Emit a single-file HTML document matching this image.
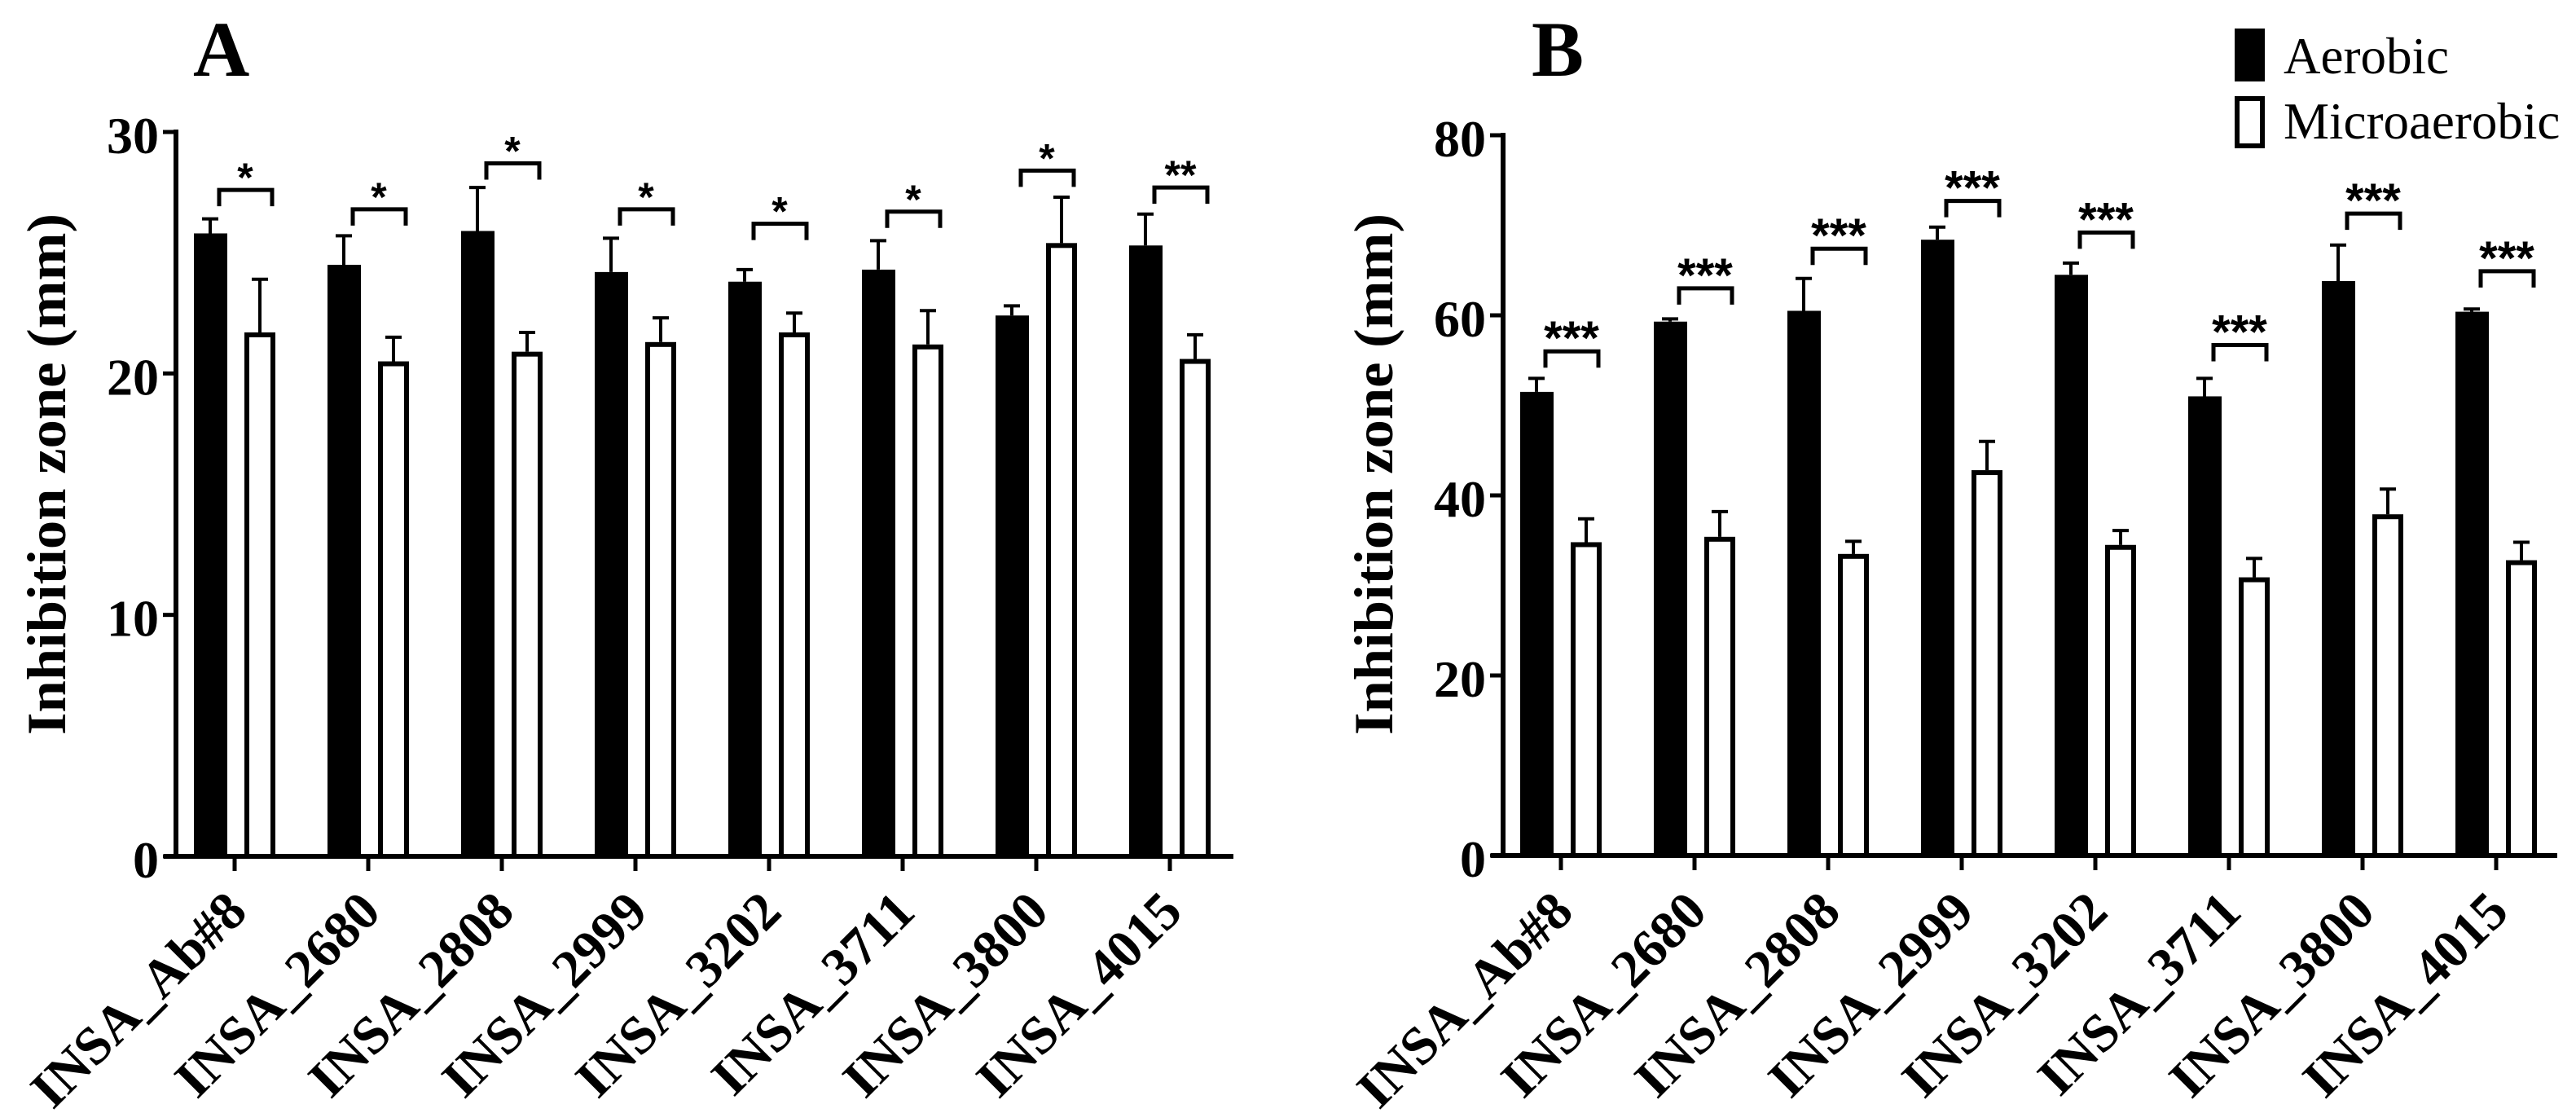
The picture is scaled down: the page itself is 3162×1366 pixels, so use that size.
<!DOCTYPE html>
<html><head><meta charset="utf-8"><style>
html,body{margin:0;padding:0;background:#fff;}
svg{display:block;}
text{font-family:"Liberation Serif",serif;fill:#000;}
</style></head><body>
<svg id="chart" width="3162" height="1366" viewBox="0 0 3162 1366" xmlns="http://www.w3.org/2000/svg">
<rect width="3162" height="1366" fill="#fff"/>
<text x="237" y="93" font-size="96" font-weight="bold">A</text>
<text x="1880" y="93" font-size="96" font-weight="bold">B</text>
<g>
<rect x="2743" y="35" width="37" height="65" fill="#000"/>
<text x="2803" y="90" font-size="63">Aerobic</text>
<rect x="2746" y="121" width="31" height="58" fill="#fff" stroke="#000" stroke-width="6"/>
<text x="2803" y="170" font-size="63">Microaerobic</text>
</g>
</svg>
<script>
const categories = ["INSA_Ab#8","INSA_2680","INSA_2808","INSA_2999","INSA_3202","INSA_3711","INSA_3800","INSA_4015"];
const aAerobic = [25.8,24.5,25.9,24.2,23.8,24.3,22.4,25.3];
const aAerobicErr = [0.6,1.2,1.8,1.4,0.5,1.2,0.4,1.3];
const aMicro = [21.7,20.5,20.9,21.3,21.7,21.2,25.4,20.6];
const aMicroErr = [2.2,1.0,0.8,1.0,0.8,1.4,1.9,1.0];
const aSigY = [27.6,26.8,28.7,26.8,26.2,26.7,28.4,27.7];
const aSigLabel = ["*","*","*","*","*","*","*","**"];
const aTicks = [0,10,20,30];
const bAerobic = [51.5,59.3,60.5,68.4,64.5,51.0,63.8,60.4];
const bAerobicErr = [1.5,0.3,3.6,1.4,1.3,2.0,4.0,0.3];
const bMicro = [34.8,35.4,33.5,42.8,34.5,30.9,37.9,32.8];
const bMicroErr = [2.6,2.8,1.4,3.2,1.6,2.1,2.8,2.0];
const bSigY = [56.0,63.0,67.4,72.7,69.2,56.7,71.3,64.9];
const bSigLabel = ["***","***","***","***","***","***","***","***"];
const bTicks = [0,20,40,60,80];

const NS = "http://www.w3.org/2000/svg";
const svg = document.getElementById("chart");
function mk(tag, attrs, parent){
  const e = document.createElementNS(NS, tag);
  for (const k in attrs) e.setAttribute(k, attrs[k]);
  (parent||svg).appendChild(e);
  return e;
}
function panel(p){
  const g = mk("g", {});
  
  
  const y = v => p.y0 - (v / p.max) * (p.y0 - p.yTop);
  const x = i => p.x0 + i * 164;
  const ya = mk("line", {x1:p.axisX, y1:p.yTop-3, x2:p.axisX, y2:p.y0+3, stroke:"#000","stroke-width":6}, g);
  
  
  p.ticks.forEach(t => {
    const tl = mk("line", {x1:p.axisX-16, y1:y(t), x2:p.axisX, y2:y(t), stroke:"#000","stroke-width":5}, g);
    
    
    const tt = mk("text", {x:p.axisX-21, y:y(t)+26, "font-size":64, "font-weight":"bold", "text-anchor":"end"}, g);
    tt.textContent = t;
    
    
  });
  const yt = mk("text", {x:0, y:0, "font-size":68, "font-weight":"bold", "text-anchor":"middle", textLength:640, lengthAdjust:"spacingAndGlyphs", transform:"translate("+p.titleX+","+582+") rotate(-90)"}, g);
  yt.textContent = "Inhibition zone (mm)";
  
  
  categories.forEach((c, i) => {
    const cx = x(i);
    const b = mk("rect", {x:cx-50, y:y(p.aer[i]), width:41, height:p.y0-y(p.aer[i]), fill:"#000"}, g);
    
    
    const eb = mk("path", {d:"M"+(cx-30)+" "+y(p.aer[i])+"V"+y(p.aer[i]+p.aerE[i])+"M"+(cx-40)+" "+y(p.aer[i]+p.aerE[i])+"H"+(cx-20), stroke:"#000","stroke-width":4, fill:"none"}, g);
    
    
    const w = mk("rect", {x:cx+15, y:y(p.mic[i])+3, width:32, height:p.y0-y(p.mic[i])-3, fill:"#fff", stroke:"#000", "stroke-width":6}, g);
    
    
    const ew = mk("path", {d:"M"+(cx+31)+" "+y(p.mic[i])+"V"+y(p.mic[i]+p.micE[i])+"M"+(cx+21)+" "+y(p.mic[i]+p.micE[i])+"H"+(cx+41), stroke:"#000","stroke-width":4, fill:"none"}, g);
    
    
    const sy = y(p.sig[i]);
    const br = mk("path", {d:"M"+(cx-19)+" "+(sy+20)+"V"+sy+"H"+(cx+46)+"V"+(sy+20), stroke:"#000","stroke-width":5, fill:"none"}, g);
    
    
    const st = mk("text", {x:cx+13, y:sy+p.starOff, "font-size":p.starSize, "font-weight":"bold", "text-anchor":"middle", style:"font-family:'Liberation Sans',sans-serif"}, g);
    st.textContent = p.sigL[i];
    
    
    const xt = mk("line", {x1:cx, y1:p.y0, x2:cx, y2:p.y0+18, stroke:"#000","stroke-width":5}, g);
    
    
    const xl = mk("text", {x:0, y:0, "font-size":66, "font-weight":"bold", "text-anchor":"end", transform:"translate("+(cx+18)+",1122) rotate(-45)"}, g);
    xl.textContent = c;
    
    
  });
  const xa = mk("line", {x1:p.axisX-15, y1:p.y0, x2:p.xEnd, y2:p.y0, stroke:"#000","stroke-width":6}, g);
  
  
}
panel({id:"panel-a", axisX:216, yTop:162, y0:1051, max:30, x0:288, xEnd:1514, titleX:80,
  ticks:aTicks, aer:aAerobic, aerE:aAerobicErr, mic:aMicro, micE:aMicroErr, sig:aSigY, sigL:aSigLabel, starSize:50, starOff:2});
panel({id:"panel-b", axisX:1845, yTop:166, y0:1050, max:80, x0:1916, xEnd:3139, titleX:1709,
  ticks:bTicks, aer:bAerobic, aerE:bAerobicErr, mic:bMicro, micE:bMicroErr, sig:bSigY, sigL:bSigLabel, starSize:58, starOff:4});
</script>
</body></html>
